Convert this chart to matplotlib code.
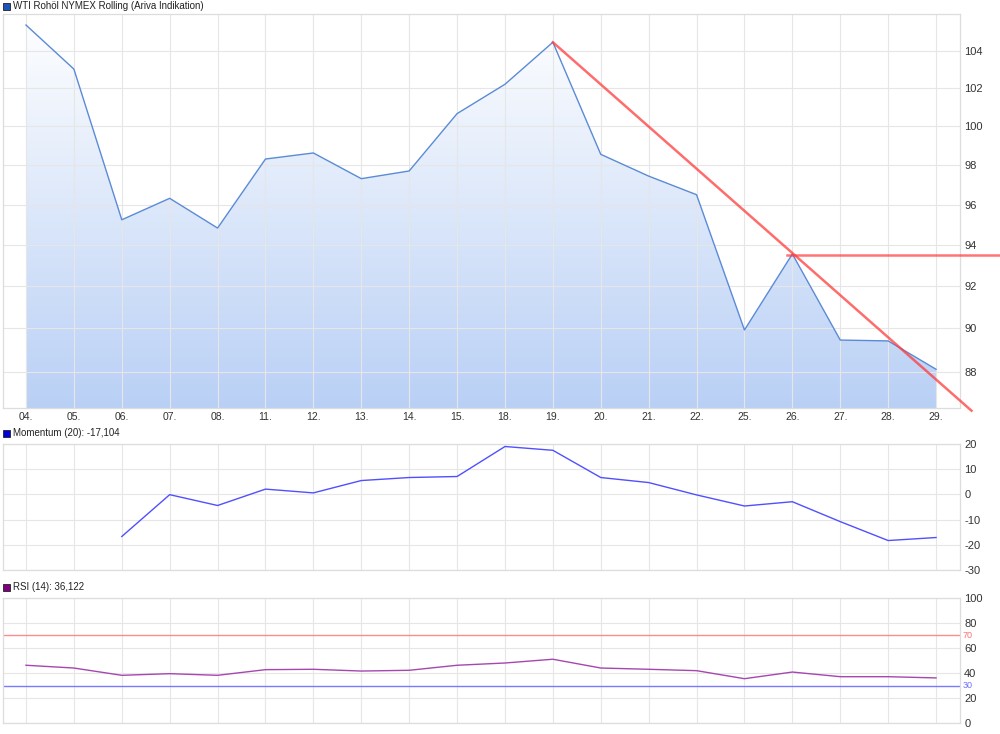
import matplotlib
matplotlib.use("Agg")
import matplotlib.pyplot as plt
import numpy as np
from matplotlib.patches import Polygon, Rectangle
from matplotlib.ticker import FixedLocator, NullLocator, FuncFormatter


# 1. Chart data

day_labels = [
    "04.", "05.", "06.", "07.", "08.", "11.", "12.", "13.", "14.", "15.",
    "18.", "19.", "20.", "21.", "22.", "25.", "26.", "27.", "28.", "29."
]

price = [
    105.40, 103.01, 95.24, 96.31, 94.83, 98.30, 98.61, 97.30, 97.69, 100.65,
    102.20, 104.46, 98.54, 97.43, 96.49, 89.93, 93.56, 89.46, 89.42, 88.11
]

momentum = [
    np.nan, np.nan, -16.7, -0.1, -4.4, 2.1, 0.6, 5.5, 6.7, 7.1,
    19.0, 17.5, 6.7, 4.7, -0.2, -4.6, -2.9, -10.8, -18.3, -17.104
]

rsi = [
    46.2, 44.0, 38.2, 39.5, 38.2, 42.7, 43.0, 41.6, 42.2, 46.2,
    48.0, 51.0, 44.0, 43.0, 41.9, 35.5, 40.8, 37.1, 37.1, 36.122
]

price_ticks = [88, 90, 92, 94, 96, 98, 100, 102, 104]
momentum_ticks = [-30, -20, -10, 0, 10, 20]
rsi_ticks = [0, 20, 40, 60, 80, 100]

# hand drawn trend lines (index, price)
trend_x = [11, 19.74]
trend_y = [104.46, 86.23]
level_x = [15.89, 20.33]
level_y = [93.51, 93.51]

rsi_upper = 70
rsi_lower = 30


# 2. Style

plt.rcParams["font.family"] = ["Liberation Sans", "DejaVu Sans"]
plt.rcParams["axes.unicode_minus"] = False

GRID_COLOR = "#e6e6e6"
TEXT_COLOR = "#333333"
x = np.arange(len(day_labels))
XLIM = (-0.48, 19.5)

fig = plt.figure(figsize=(10.0, 7.34), dpi=100)


def style_axes(ax, ticks):
    ax.set_xlim(*XLIM)
    ax.set_xticks(x)
    ax.yaxis.tick_right()
    ax.yaxis.set_major_locator(FixedLocator(ticks))
    ax.yaxis.set_minor_locator(NullLocator())
    ax.tick_params(axis="both", length=0, colors=TEXT_COLOR)
    ax.tick_params(axis="y", pad=3, labelsize=8)
    ax.tick_params(axis="x", labelsize=7.5)
    ax.grid(True, color=GRID_COLOR, linewidth=0.8)
    ax.set_axisbelow("line")
    for spine in ax.spines.values():
        spine.set_color("#dddddd")
        spine.set_linewidth(0.9)


def panel_title(y_px, text, color):
    fig.patches.append(
        Rectangle(
            (3 / 1000, 1 - (y_px + 3.5) / 734), 7 / 1000, 7 / 734,
            transform=fig.transFigure, facecolor=color,
            edgecolor="#222222", linewidth=0.6
        )
    )
    fig.text(13 / 1000, 1 - y_px / 734, text, fontsize=7,
             color="#222222", va="center", ha="left")


# 3. Price panel (log scale)

ax_price = fig.add_axes([0.003, 0.4441, 0.957, 0.5364])
ax_price.set_yscale("log")
ax_price.set_ylim(86.35, 105.99)
style_axes(ax_price, price_ticks)
ax_price.yaxis.set_major_formatter(FuncFormatter(lambda v, p: f"{v:.0f}"))
ax_price.set_xticklabels(day_labels)
ax_price.tick_params(axis="x", pad=2.5)

gradient = np.linspace(0, 1, 256).reshape(-1, 1)
top_rgb = np.array([1.0, 1.0, 1.0])
bottom_rgb = np.array([0.725, 0.815, 0.962])
gradient_img = top_rgb * (1 - gradient[..., None]) + bottom_rgb * gradient[..., None]
image = ax_price.imshow(
    gradient_img, extent=(0, 1, 0, 1), transform=ax_price.transAxes,
    aspect="auto", origin="upper", zorder=0.8
)
fill_vertices = [(x[0], 80)] + list(zip(x, price)) + [(x[-1], 80)]
fill_shape = Polygon(fill_vertices, closed=True, facecolor="none",
                     edgecolor="none")
ax_price.add_patch(fill_shape)
image.set_clip_path(fill_shape)

ax_price.plot(x, price, color="#5b8bd6", linewidth=1.0, zorder=2)

ax_price.plot(trend_x, trend_y, color="#ff3b3b", alpha=0.75,
              linewidth=1.8, clip_on=False, zorder=3)
ax_price.plot(level_x, level_y, color="#ff3b3b", alpha=0.7,
              linewidth=1.8, clip_on=False, zorder=3)

panel_title(6, "WTI Rohöl NYMEX Rolling (Ariva Indikation)", "#1a56b8")


# 4. Momentum panel

ax_mom = fig.add_axes([0.003, 0.2234, 0.957, 0.1717])
ax_mom.set_ylim(-30, 20)
style_axes(ax_mom, momentum_ticks)
ax_mom.set_xticklabels([])
ax_mom.plot(x, momentum, color="#5050ff", linewidth=1.0, zorder=2)

panel_title(433, "Momentum (20): -17,104", "#0000dd")


# 5. RSI panel

ax_rsi = fig.add_axes([0.003, 0.0146, 0.957, 0.1711])
ax_rsi.set_ylim(0, 100)
style_axes(ax_rsi, rsi_ticks)
ax_rsi.set_xticklabels([])

ax_rsi.axhline(rsi_upper, color="#ff8a8a", linewidth=1.0, zorder=1.8)
ax_rsi.axhline(rsi_lower, color="#7a7aff", linewidth=1.0, zorder=1.8)
ax_rsi.plot(x, rsi, color="#a647b0", linewidth=1.0, zorder=2)

for level, color in [(rsi_upper, "#ff7070"), (rsi_lower, "#7070ff")]:
    ax_rsi.text(1.003, level, str(level), color=color, fontsize=6.5,
                va="center", ha="left",
                transform=ax_rsi.get_yaxis_transform())

panel_title(587, "RSI (14): 36,122", "#800080")

fig.savefig("out.png", dpi=100, facecolor="white")
